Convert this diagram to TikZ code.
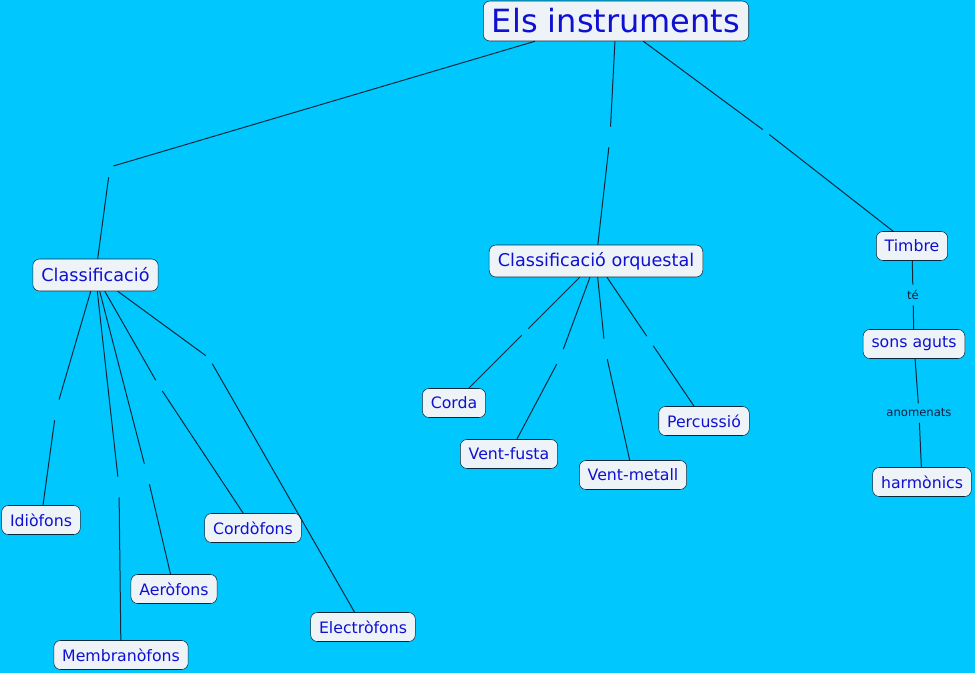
\documentclass[tikz,border=0pt]{standalone}
\usepackage{fontspec}
\setmainfont{DejaVu Sans}
\definecolor{bgcol}{RGB}{0,200,255}
\definecolor{boxcol}{RGB}{238,243,248}
\definecolor{textcol}{RGB}{16,16,210}
\definecolor{linecol}{RGB}{10,40,60}
\definecolor{wordcol}{RGB}{20,30,60}

\begin{document}
\begin{tikzpicture}[x=0.75pt, y=-0.75pt,
  concept/.style={draw=linecol, fill=boxcol, rounded corners=5pt,
    text=textcol, font=\fontsize{11.8}{14}\selectfont,
    inner xsep=6.3pt, inner ysep=2pt, minimum height=21.75pt},
  main/.style={concept, font=\fontsize{24}{28}\selectfont,
    inner xsep=6.5pt, minimum height=30pt},
  sub/.style={concept, font=\fontsize{13.2}{16}\selectfont,
    inner xsep=6.5pt, minimum height=24pt},
  link/.style={inner sep=0pt, minimum width=4.5pt, minimum height=15pt},
  word/.style={text=wordcol, font=\fontsize{8.7}{10}\selectfont,
    inner xsep=1pt, inner ysep=4pt},
  con/.style={draw=linecol, line width=0.75pt}
]
\useasboundingbox (0,0) rectangle (975,672);
\fill[bgcol] (-3,-3) rectangle (978,675);

\node[main] (els) at (616,21) {Els instruments};
\node[sub] (cla) at (95.5,275) {Classificació};
\node[sub] (orq) at (596,261) {Classificació orquestal};
\node[concept] (tim) at (912,246) {Timbre};
\node[concept] (agu) at (914,344) {sons aguts};
\node[concept] (har) at (922,482) {harmònics};

\node[concept] (idi) at (41,520) {Idiòfons};
\node[concept] (mem) at (121,655) {Membranòfons};
\node[concept] (aer) at (174,589) {Aeròfons};
\node[concept] (cor) at (253,528) {Cordòfons};
\node[concept] (ele) at (363,627) {Electròfons};

\node[concept] (crd) at (454,403) {Corda};
\node[concept] (fus) at (509,454) {Vent-fusta};
\node[concept] (met) at (633,475) {Vent-metall};
\node[concept] (per) at (704,421) {Percussió};

\node[link] (lcla) at (110,167) {};
\node[link] (lorq) at (610,137) {};
\node[link] (ltim) at (766,132) {};
\node[word] (te) at (913,295) {té};
\node[word] (ano) at (919,413) {anomenats};

\node[link] (lidi) at (56,410) {};
\node[link] (lmem) at (119,487) {};
\node[link] (laer) at (147,474) {};
\node[link] (lcor) at (159,386) {};
\node[link] (lele) at (209,358) {};

\node[link] (lcrd) at (525,332) {};
\node[link] (lfus) at (560,358) {};
\node[link] (lmet) at (605,349) {};
\node[link] (lper) at (650,341) {};

\draw[con] (els.south west) ++(52,0) coordinate (elsw) -- (lcla) (lcla) -- (cla);
\draw[con] (els) -- (lorq) (lorq) -- (orq);
\draw[con] (els) -- (ltim) (ltim) -- (tim);
\draw[con] (tim) -- (te) (te) -- (agu);
\draw[con] (agu) -- (ano) (ano) -- (har);

\draw[con] (cla) -- (lidi) (lidi) -- (idi);
\draw[con] (cla) -- (lmem) (lmem) -- (mem);
\draw[con] (cla) -- (laer) (laer) -- (aer);
\draw[con] (cla) -- (lcor) (lcor) -- (cor);
\draw[con] (cla) -- (lele) (lele) -- (ele);

\draw[con] (orq) -- (lcrd) (lcrd) -- (crd);
\draw[con] (orq) -- (lfus) (lfus) -- (fus);
\draw[con] (orq) -- (lmet) (lmet) -- (met);
\draw[con] (orq) -- (lper) (lper) -- (per);
\end{tikzpicture}
\end{document}
